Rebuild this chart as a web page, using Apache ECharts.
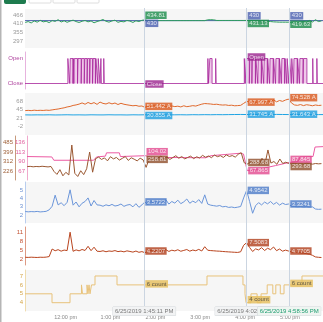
<!DOCTYPE html>
<html><head><meta charset="utf-8">
<script src="https://cdn.jsdelivr.net/npm/echarts@6/dist/echarts.min.js"></script>
<style>html,body{margin:0;padding:0;background:#fff}#c{width:323px;height:322px}</style>
</head><body><div id="c"></div><script>
// Times are minutes after midnight on 6/25/2019
const tStart = 665.7, tEnd = 1064.1;
const sampleStart = 666, sampleStep = 4;      // 4-minute samples
const slowStart = 666, slowStep = 8;          // 8-minute samples
const xTickValues = [720, 780, 840, 900, 960, 1020];
const xTickLabels = ['12:00 pm', '1:00 pm', '2:00 pm', '3:00 pm', '4:00 pm', '5:00 pm'];
const cursorTimes = [825.18, 962.03, 1018.93];
const cursorLabels = ['6/25/2019 1:45:11 PM', '6/25/2019 4:02:02 PM', '6/25/2019 4:58:56 PM'];

// Pressure
const pressureTicks = [297, 355, 410, 466];
const pressureSetpoint = 430;
const pressure = [418,424,415,428,420,432,422,426,417,430,425,436,421,429,419,427,433,424,418,426,431,422,428,416,424,430,437,426,420,428,433,419,425,422,431,427,418,429,424,432,434.81,
  430,430,430,430,430,430,430,430,430,430,430,430,430,430,430,430,430,430,430,430,
  435,436,435,
  431,431,431,431,431,431,431,431,431,431,431.13,431,430,430,430,429,428,426,424,422,421,420,420,420,
  419.63,
  419,420,419,420,424,418,431,421,436,424,428];
const pressureAtCursor = [434.81, 431.13, 419.63];
const setpointAtCursor = [430, 430, 430];

// Valve state (0 = Close, 1 = Open): open periods in minutes
const stateNames = ['Close', 'Open'];
const openIntervals = [
  [723.0,725.5],[726.2,729.8],[730.3,731.0],[731.6,735.9],[736.6,740.8],[741.4,744.9],[745.6,748.7],[749.4,752.1],[752.8,756.0],[756.7,759.8],[760.5,763.0],[763.6,766.0],
  [767.2,767.8],[771.0,771.6],
  [910.2,910.8],[912.8,915.8],[920.6,921.2],
  [958.9,960.1],[961.5,965.6],[966.3,969.0],[969.6,973.7],[974.4,976.9],[977.5,981.6],[982.2,984.8],[985.5,989.6],[990.2,992.7],[993.3,997.5],[998.1,1000.6],[1001.2,1005.4],[1006.0,1008.4],[1009.1,1012.8],[1013.4,1015.6],[1016.2,1018.4],[1019.6,1021.8],[1022.4,1024.7],[1025.3,1029.6],[1030.2,1032.6],[1033.2,1037.4],[1038.1,1042.6],
  [1050.4,1050.9],[1055.9,1056.4]];
const stateAtCursor = [0, 1, null];

// Currents (A)
const currentTicks = [-2, 21, 45, 68];
const currentA = [42.5,43.1,42.4,43.6,42.8,43.3,42.9,43.8,43.2,
  44.5,45.8,46.9,48.7,50.2,52.6,54.1,56.8,58.3,60.5,
  63.8,60.2,65.1,61.4,64.7,59.8,66.2,62.5,60.9,64.3,61.1,63.6,59.4,62.8,60.1,
  58.6,57.2,55.9,56.8,54.6,55.3,
  51.44,
  55.2,53.8,56.1,54.3,53.1,55.7,54.2,52.9,55.4,53.6,54.8,52.7,55.9,53.4,54.6,56.3,55.1,57.8,
  60.4,62.1,61.5,
  60.8,59.6,60.2,58.7,57.9,58.4,56.8,57.5,55.9,56.4,57.1,
  62.5,68.0,
  66.3,70.2,64.8,68.9,71.5,65.7,69.3,67.1,72.4,66.8,70.6,68.2,71.9,
  74.53,
  63.5,58.2,57.1,59.3,56.4,58.8,57.6,55.9,58.1,56.7,57.4];
const currentB = [30.6,30.4,30.7,30.5,30.8,30.4,30.6,30.9,30.5,30.7,30.4,30.8,30.6,30.5,30.9,30.6,30.7,30.4,30.8,30.6,
  30.86,30.7,30.5,30.9,30.6,30.8,31.0,30.7,31.1,30.9,31.2,31.0,31.3,31.1,31.4,31.6,31.75,31.6,31.8,31.5,
  31.7,31.6,31.9,31.7,31.5,31.64,31.5,31.7,31.6,31.4,31.5];
const currentAAtCursor = [51.442, 67.997, 74.528];
const currentBAtCursor = [30.855, 31.745, 31.643];

// Temperature (pink) and flow (brown)
const tempTicks = [67, 90, 113, 136];
const flowTicks = [226, 312, 399, 485];
const tempTimes = [665.7,699.1,701.8,755.3,759.3,771.3,772.7,790.0,791.4,825.2,832.8,906.3,913.0,953.1,957.1,962.0,979.9,1000.0,1018.9,1030.7,1033.3,1050.7,1053.4,1064.1];
const tempValues = [102,101,93,93,101,103,111,111,102,104.02,100,99,104,110,108,67.87,72,80,87.85,90,101,102,125,126];
const flow = [266,268,264,267,265,269,266,263,267,
  222,195,238,182,214,190,462,205,176,228,193,246,398,
  215,338,
  352,331,345,318,356,336,349,325,341,357,322,346,333,318,342,327,
  258.81,
  334,351,328,345,362,339,354,331,348,365,342,357,336,349,361,338,355,344,368,351,362,347,371,356,365,349,372,358,366,352,378,392,
  301,288.68,
  305,296,322,284,341,291,417,298,312,287,335,294,306,
  293.68,
  291,295,289,293,290,296,292,288,294,291,293];
const tempAtCursor = [104.02, 67.865, 87.845];
const flowAtCursor = [258.81, 288.68, 293.68];

// Vibration
const vibTicks = [2, 3, 4, 5];
const vib = [2.42,2.38,2.41,2.39,2.43,2.37,2.40,2.44,
  2.62,3.05,4.38,3.21,3.47,3.12,3.52,5.02,3.18,3.56,2.98,3.41,3.62,4.05,3.08,3.74,3.21,
  3.18,3.05,3.22,3.11,3.27,3.08,3.15,3.32,3.04,3.19,3.26,2.98,3.36,2.92,3.21,
  3.57,
  3.24,3.61,3.38,3.72,3.29,3.55,3.84,3.31,3.62,3.43,3.78,3.36,3.58,3.92,3.41,3.67,3.48,3.85,3.39,4.42,
  3.31,3.18,3.12,3.06,3.14,2.98,3.03,2.91,2.96,2.88,2.94,3.02,
  4.05,4.95,
  3.62,2.21,3.12,3.48,3.21,3.55,3.34,3.62,3.28,3.51,3.19,3.42,3.26,
  3.32,
  3.05,3.02,2.98,3.01,2.96,2.99,2.94,2.97,2.72,2.68,2.70];
const vibAtCursor = [3.5722, 4.9542, 3.3241];

// Load
const loadTicks = [2, 5, 8, 11];
const load = [2.72,2.68,2.75,2.70,2.66,2.74,2.71,2.78,2.95,
  5.42,4.86,5.21,4.72,5.08,4.91,10.92,4.68,5.14,4.83,5.27,4.95,6.31,4.88,6.02,4.71,
  4.62,4.85,4.53,4.78,4.66,4.91,4.58,4.74,4.49,4.82,4.63,4.41,4.76,4.35,4.58,
  4.22,
  4.68,4.95,4.52,5.12,4.74,4.88,5.21,4.63,5.04,4.81,5.18,4.69,4.97,5.26,4.72,5.09,4.86,5.31,4.78,6.18,
  5.02,4.91,4.84,4.76,4.71,4.62,4.55,4.48,4.42,4.36,4.31,4.52,
  6.64,7.51,
  5.92,4.61,5.48,5.12,5.86,4.93,5.67,5.21,6.08,4.88,5.42,4.71,5.06,
  4.77,
  4.45,4.32,4.28,4.15,4.06,3.92,3.71,3.36,2.84,2.72,2.65];
const loadAtCursor = [4.2207, 7.5083, 4.7705];

// Running count
const countTicks = [4, 5, 6, 7];
const countTimes = [665.7,701.8,725.9,741.2,742.6,748.6,749.9,751.3,752.6,754.6,759.3,788.7,909.0,957.1,959.8,961.2,967.8,976.0,981.3,989.5,997.0,1001.0,1007.0,1012.0,1036.0,1064.1];
const countValues = [5,4,5,6,5,6,5,6,5,6,7,6,7,6,5,4,5,4,5,6,5,6,5,6,7,7];
const countAtCursor = [6, 4, 6];

// ---- build ----
const FONT = 'Liberation Sans, Arial, sans-serif';
const on4 = arr => arr.map((v, i) => [sampleStart + i * sampleStep, v]);
const on8 = arr => arr.map((v, i) => [slowStart + i * slowStep, v]);
const zip = (ts, vs) => ts.map((t, i) => [t, vs[i]]);

const stateData = [[tStart, 0]];
openIntervals.forEach(([a, b]) => { stateData.push([a, 0], [a, 1], [b, 1], [b, 0]); });
stateData.push([tEnd, 0]);

const panels = [
  {top: 9, height: 39, bg: '#f6f6f6'},
  {top: 52, height: 37, bg: null},
  {top: 93, height: 42, bg: '#f6f6f6'},
  {top: 136, height: 44, bg: null},
  {top: 182, height: 41, bg: '#f6f6f6'},
  {top: 227, height: 38, bg: null},
  {top: 270, height: 41, bg: '#f6f6f6'},
  {top: 8, height: 298, bg: null}
];

const grids = panels.map(p => ({left: 25, right: 0, top: p.top, height: p.height,
  show: !!p.bg, backgroundColor: p.bg || 'transparent', borderWidth: 0}));

const xAxes = panels.map((p, i) => ({
  type: 'value', gridIndex: i, min: tStart, max: tEnd, show: i === 6,
  axisLine: {show: false}, axisTick: {show: false}, splitLine: {show: false},
  axisLabel: {customValues: xTickValues, fontSize: 5.5, color: '#8a8a8a', margin: 3,
    formatter: v => xTickLabels[xTickValues.indexOf(Math.round(v))] || ''}
}));

function yAx(grid, min, max, ticks, color, lineColor, extra) {
  const a = {type: 'value', gridIndex: grid, min, max, position: 'left',
    splitLine: {show: false}, axisTick: {show: false},
    axisLine: {show: !!lineColor, onZero: false, lineStyle: {color: lineColor || '#ccc', width: 1}},
    axisLabel: {customValues: ticks, color, fontSize: 6, margin: 2}};
  return Object.assign(a, extra || {});
}

const yAxes = [
  yAx(0, 254.5, 504.4, pressureTicks, '#9a9a9a', null),
  yAx(1, -0.22, 1.26, [0, 1], '#b0459f', '#e7b3de'),
  yAx(2, -25.3, 91.4, currentTicks, '#9a9a9a', null),
  yAx(3, 45.2, 151.7, tempTicks, '#e0609f', '#f0a9cc'),
  yAx(3, 144, 544, flowTicks, '#a0623a', '#c79a7d', {offset: 12}),
  yAx(4, 1.04, 5.96, vibTicks, '#6a8fd0', '#b9cdee'),
  yAx(5, 0.2, 12.62, loadTicks, '#c25030', '#dd9a84'),
  yAx(6, 3.07, 7.67, countTicks, '#d4a64a', '#efdcae'),
  {type: 'value', gridIndex: 7, min: 0, max: 1, show: false}
];
yAxes[1].axisLabel.formatter = v => stateNames[Math.round(v)];

function line(xi, yi, data, color, extra) {
  return Object.assign({type: 'line', xAxisIndex: xi, yAxisIndex: yi, data, symbol: 'none',
    lineStyle: {color, width: 1}, itemStyle: {color}, silent: true, z: 3}, extra || {});
}

function tags(xi, yi, values, bg, fg, suffix, offsets) {
  const data = [];
  values.forEach((v, k) => {
    if (v == null) return;
    data.push({value: [cursorTimes[k], v], label: {offset: [0, offsets[k]]}});
  });
  return {type: 'scatter', xAxisIndex: xi, yAxisIndex: yi, data, symbolSize: 0.01,
    itemStyle: {color: 'rgba(0,0,0,0)'}, silent: true, z: 20,
    label: {show: true, position: 'right', distance: 1, fontSize: 6, fontFamily: FONT,
      color: fg, backgroundColor: bg, padding: [1, 1.5, 0.5, 1.5], lineHeight: 6,
      formatter: p => (yi === 1 ? stateNames[p.value[1]] : String(p.value[1])) + suffix}};
}

const series = [
  line(0, 0, [[tStart, pressureSetpoint], [tEnd, pressureSetpoint]], '#4b5fae'),
  line(0, 0, on4(pressure), '#2f9e5f'),
  line(1, 1, stateData, '#a7259b', {lineStyle: {color: '#a7259b', width: 0.8},
    areaStyle: {color: '#ecbfe6', opacity: 0.85, origin: 0}}),
  line(2, 2, on4(currentA), '#e0692d'),
  line(2, 2, on8(currentB), '#1fa3e3'),
  line(3, 3, zip(tempTimes, tempValues), '#ec5aa3'),
  line(3, 4, on4(flow), '#9a5731'),
  line(4, 5, on4(vib), '#6a95da'),
  line(5, 6, on4(load), '#b9441e'),
  line(6, 7, zip(countTimes, countValues), '#e8c27a', {step: 'end'}),
  {type: 'line', xAxisIndex: 7, yAxisIndex: 8, data: [[tStart, 0]], symbol: 'none',
    lineStyle: {opacity: 0}, silent: true, z: 2,
    markLine: {silent: true, symbol: ['none', 'none'], animation: false,
      lineStyle: {color: '#cbd5e1', width: 1, type: 'solid'},
      label: {show: true, position: 'start', distance: 1, fontSize: 6, fontFamily: FONT,
        padding: [1.5, 2, 1, 2], borderWidth: 0.5, borderColor: '#d3d7db', backgroundColor: '#f2f3f4', color: '#7a7a7a'},
      data: cursorTimes.map((t, k) => ({xAxis: t, label: Object.assign({formatter: cursorLabels[k]},
        k === 2 ? {color: '#1b9c6e', backgroundColor: '#eef5f1'} : {})}))}},
  tags(0, 0, pressureAtCursor, '#1a8c4a', '#fff', '', [-4.6, 3, 2]),
  tags(0, 0, setpointAtCursor, '#4a5fb0', '#fff', '', [2.7, -4.8, -4.8]),
  tags(1, 1, stateAtCursor, '#9b238f', '#fff', '', [0.5, -1.5, 0]),
  tags(2, 2, currentAAtCursor, '#d9571b', '#fff', ' A', [-1, 0.7, -1.4]),
  tags(2, 2, currentBAtCursor, '#1b9de0', '#fff', ' A', [0.7, -0.3, -0.3]),
  tags(3, 3, tempAtCursor, '#e2488f', '#fff', '', [-4, 0, -3]),
  tags(3, 4, flowAtCursor, '#8f4e2b', '#fff', '', [-8, -1.6, 3]),
  tags(4, 5, vibAtCursor, '#4b7ac8', '#fff', '', [0, 0, 0]),
  tags(5, 6, loadAtCursor, '#b03f1b', '#fff', '', [-1.7, 0, 0]),
  tags(6, 7, countAtCursor, '#e6be5a', '#3a3a3a', ' count', [-1, -3, -1.5])
];

const chart = echarts.init(document.getElementById('c'), null, {renderer: 'canvas', width: 323, height: 322});
chart.setOption({
  animation: false,
  backgroundColor: '#fff',
  textStyle: {fontFamily: FONT},
  graphic: [
    {type: 'rect', shape: {x: 0, y: 0, width: 1.5, height: 322}, style: {fill: '#b5b5b5'}, silent: true},
    {type: 'rect', shape: {x: 4, y: -4, width: 22, height: 8, r: 2}, style: {fill: '#1e7b4e'}, silent: true},
    {type: 'rect', shape: {x: 29, y: -4, width: 22, height: 7, r: 1}, style: {fill: '#fff', stroke: '#d6d6d6', lineWidth: 0.8}, silent: true},
    {type: 'rect', shape: {x: 53, y: -4, width: 22, height: 7, r: 1}, style: {fill: '#fff', stroke: '#d6d6d6', lineWidth: 0.8}, silent: true},
    {type: 'rect', shape: {x: 77, y: -4, width: 22, height: 7, r: 1}, style: {fill: '#fff', stroke: '#d6d6d6', lineWidth: 0.8}, silent: true}
  ],
  grid: grids,
  xAxis: xAxes,
  yAxis: yAxes,
  series
});
</script></body></html>
